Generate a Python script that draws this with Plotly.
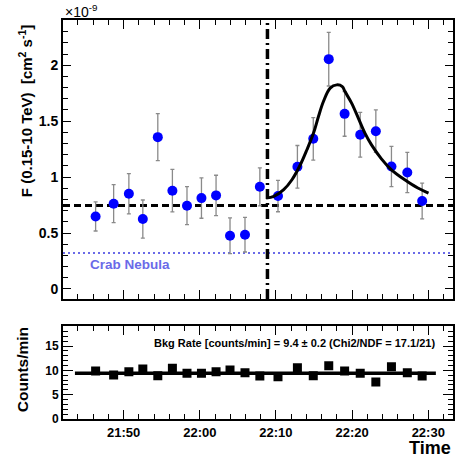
import plotly.graph_objects as go

DAY = "2000-01-01 "

# ---- data (flux in units of 1e-9 cm^-2 s^-1) ----
flux_times = ["21:46:19", "21:48:41", "21:50:41", "21:52:31", "21:54:29", "21:56:24",
              "21:58:19", "22:00:13", "22:02:08", "22:03:58", "22:05:56", "22:07:53",
              "22:10:16", "22:12:49", "22:14:54", "22:16:56", "22:19:01", "22:21:04",
              "22:23:07", "22:25:10", "22:27:15", "22:29:12"]
flux = [0.648, 0.762, 0.851, 0.625, 1.357, 0.878, 0.744, 0.812, 0.836, 0.476, 0.485,
        0.913, 0.830, 1.092, 1.342, 2.054, 1.565, 1.378, 1.410, 1.095, 1.041, 0.786]
flux_err = [0.13, 0.17, 0.18, 0.17, 0.21, 0.19, 0.17, 0.18, 0.18, 0.16, 0.155,
            0.17, 0.14, 0.19, 0.19, 0.24, 0.20, 0.20, 0.19, 0.18, 0.18, 0.16]
time_err_min = [1.5] + [1.0] * 21

bkg = [9.88, 9.05, 9.73, 10.29, 8.91, 10.43, 9.40, 9.40, 9.73, 10.08, 9.53,
       8.85, 8.70, 10.56, 8.91, 10.97, 9.88, 9.40, 7.61, 10.76, 9.53, 8.85]
bkg_err = [0.4] * 22
bkg_rate = 9.4
bkg_fit_range = ["21:43:36", "22:31:00"]

fit_times = ["22:08:43", "22:09:43", "22:11:01", "22:12:06", "22:13:12", "22:14:04",
             "22:14:56", "22:15:35", "22:16:14", "22:17:07", "22:17:59", "22:18:43",
             "22:19:04", "22:19:56", "22:20:49", "22:21:41", "22:22:33", "22:23:51",
             "22:25:10", "22:26:55", "22:28:38", "22:30:02"]
fit_flux = [0.812, 0.827, 0.887, 0.976, 1.110, 1.244, 1.393, 1.541, 1.675, 1.795, 1.824,
            1.809, 1.764, 1.661, 1.527, 1.393, 1.288, 1.163, 1.065, 0.976, 0.902, 0.857]

mean_flux = 0.746
crab_flux = 0.321
flare_start = "22:08:53"
x_range = ["21:42:02", "22:33:15"]

def t(s):
    return DAY + s

# plot-area pixel geometry
L, R, T, B = 63, 455, 20, 419
W, H = 462, 461
def px(x):
    return (x - L) / (R - L)
def py(y):
    return (B - y) / (B - T)

FONT = "Liberation Sans"
GREY = "#8a8a8a"
CRAB = "#6a6ae8"

fig = go.Figure()

# top panel
fig.add_trace(go.Scatter(
    x=[t(s) for s in flux_times], y=flux, mode="markers",
    marker=dict(color="#0000ff", size=10, symbol="circle"),
    error_y=dict(type="data", array=flux_err, color=GREY, thickness=1.3, width=2),
    error_x=dict(type="data", array=[m * 60000 for m in time_err_min], color=GREY, thickness=1.3, width=2),
    xaxis="x", yaxis="y", showlegend=False))
fig.add_trace(go.Scatter(
    x=[t(s) for s in fit_times], y=fit_flux, mode="lines", line=dict(color="black", width=3, shape="spline"),
    xaxis="x", yaxis="y", showlegend=False))

# bottom panel
fig.add_trace(go.Scatter(
    x=[t(s) for s in bkg_fit_range], y=[bkg_rate, bkg_rate], mode="lines",
    line=dict(color="black", width=3.5), xaxis="x2", yaxis="y2", showlegend=False))
fig.add_trace(go.Scatter(
    x=[t(s) for s in flux_times], y=bkg, mode="markers",
    marker=dict(color="black", size=9, symbol="square"),
    error_y=dict(type="data", array=bkg_err, color=GREY, thickness=1.3, width=2),
    error_x=dict(type="data", array=[m * 60000 for m in time_err_min], color=GREY, thickness=1.3, width=2),
    xaxis="x2", yaxis="y2", showlegend=False))

shapes = [
    dict(type="line", xref="x domain", yref="y", x0=0, x1=1, y0=mean_flux, y1=mean_flux,
         line=dict(color="black", width=3, dash="7px,4px"), layer="below"),
    dict(type="line", xref="x domain", yref="y", x0=0, x1=1, y0=crab_flux, y1=crab_flux,
         line=dict(color=CRAB, width=2, dash="2px,3px"), layer="below"),
    dict(type="line", xref="x", yref="y domain", x0=t(flare_start), x1=t(flare_start), y0=0, y1=1,
         line=dict(color="black", width=3.5, dash="10px,4px,2px,4px"), layer="above"),
]

axis_common = dict(showline=True, linecolor="black", linewidth=2, mirror="allticks",
                   ticks="inside", tickcolor="black", tickwidth=1.2, showgrid=False, zeroline=False)

xcommon = dict(type="date", range=[t(x_range[0]), t(x_range[1])], tick0=t("21:50:00"),
               dtick=600000, tickformat="%H:%M", ticklen=9,
               minor=dict(dtick=120000, tick0=t("21:50:00"), ticks="inside", ticklen=5, tickcolor="black"),
               **axis_common)

fig.update_layout(
    width=W, height=H, margin=dict(l=L, r=W - R, t=T, b=H - B),
    paper_bgcolor="white", plot_bgcolor="white",
    font=dict(family=FONT, color="black"),
    xaxis=dict(domain=[0, 1], anchor="y", showticklabels=False, **xcommon),
    yaxis=dict(domain=[py(299), 1], anchor="x", range=[-0.09, 2.404], tick0=0, dtick=0.5, ticklen=8,
               tickfont=dict(family=FONT, size=14, weight="bold"),
               minor=dict(dtick=0.1, tick0=0, ticks="inside", ticklen=5, tickcolor="black"),
               **axis_common),
    xaxis2=dict(domain=[0, 1], anchor="y2", matches="x", showticklabels=True,
                tickfont=dict(family=FONT, size=13, weight="bold"), **xcommon),
    yaxis2=dict(domain=[0, py(325.7)], anchor="x2", range=[0, 19.2], tick0=0, dtick=5, ticklen=10,
                tickfont=dict(family=FONT, size=12, weight="bold"),
                minor=dict(dtick=1, tick0=0, ticks="inside", ticklen=5, tickcolor="black"),
                **axis_common),
    shapes=shapes,
)

ann = [
    dict(text="F (0.15-10 TeV)  [cm<sup>2</sup> s<sup>-1</sup>]", x=px(25), y=py(111), textangle=-90,
         font=dict(size=15, weight="bold")),
    dict(text="Counts/min", x=px(22), y=py(370), textangle=-90, font=dict(size=15.5, weight="bold")),
    dict(text="×10<sup>-9</sup>", x=px(63), y=py(11), xanchor="left", font=dict(size=14)),
    dict(text="Crab Nebula", x=px(88), y=py(264), xanchor="left", font=dict(size=13.5, weight="bold", color=CRAB)),
    dict(text="Bkg Rate [counts/min] = 9.4 ± 0.2 (Chi2/NDF = 17.1/21)", x=px(152), y=py(343),
         xanchor="left", font=dict(size=11, weight="bold")),
    dict(text="Time", x=px(455), y=py(448), xanchor="right", font=dict(size=18, weight="bold")),
]
for a in ann:
    a.update(xref="paper", yref="paper", showarrow=False, yanchor=a.get("yanchor", "middle"),
             xanchor=a.get("xanchor", "center"))
    a["font"] = dict(family=FONT, color="black", **a["font"]) if "color" not in a["font"] else dict(family=FONT, **a["font"])
fig.update_layout(annotations=ann)

fig.write_html("out.html", config={"displayModeBar": False},
               post_script="document.body.style.margin='0';document.body.style.overflow='hidden';")
